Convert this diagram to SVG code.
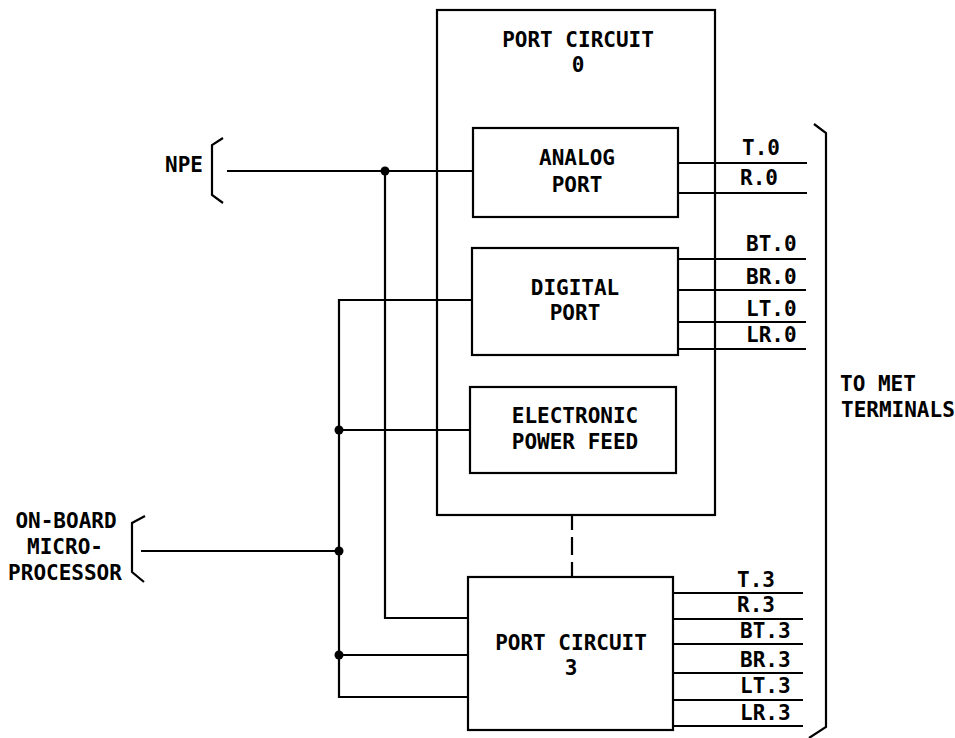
<svg xmlns="http://www.w3.org/2000/svg" width="955" height="738" viewBox="0 0 955 738">
<style>
.b{fill:none;stroke:#000;stroke-width:2.2}
.l{fill:none;stroke:#000;stroke-width:2.2}
text{font-family:"DejaVu Sans Mono","Liberation Mono",monospace;font-size:21px;font-weight:bold;fill:#000}
.c{text-anchor:middle}
.m{text-anchor:middle}
</style>
<rect width="955" height="738" fill="#fff"/>
<g id="connectors">
<path class="l" d="M227,171H473M385,171V618H468"/>
<path class="l" d="M472,300H339V697H468"/>
<path class="l" d="M339,430H470M141,551H339M339,655H468"/>
<path class="l" d="M572,515V577" stroke-dasharray="15 7 18 7 20"/>
<path class="l" d="M678,163H807M678,193H807"/>
<path class="l" d="M678,259H806M678,290H806M678,322H806M678,349H806"/>
<path class="l" d="M673,593H803M673,619H803M673,644H803M673,673H803M673,700H803M673,726H803"/>
<circle cx="385" cy="171" r="4.5"/>
<circle cx="339" cy="430" r="4.5"/>
<circle cx="339" cy="551" r="4.5"/>
<circle cx="339" cy="655" r="4.5"/>
</g>
<g id="port-circuit-0">
<rect class="b" x="437" y="10" width="278" height="505"/>
<text class="c" x="578" y="47">PORT CIRCUIT</text>
<text class="c" x="578" y="72">0</text>
</g>
<g id="analog-port">
<rect class="b" x="473" y="128" width="205" height="89"/>
<text class="c" x="577" y="165">ANALOG</text>
<text class="c" x="577" y="192">PORT</text>
</g>
<g id="digital-port">
<rect class="b" x="472" y="248" width="206" height="107"/>
<text class="c" x="575" y="295">DIGITAL</text>
<text class="c" x="575" y="320">PORT</text>
</g>
<g id="power-feed">
<rect class="b" x="470" y="387" width="206" height="86"/>
<text class="c" x="575" y="423">ELECTRONIC</text>
<text class="c" x="575" y="449">POWER FEED</text>
</g>
<g id="port-circuit-3">
<rect class="b" x="468" y="577" width="205" height="153"/>
<text class="c" x="571" y="650">PORT CIRCUIT</text>
<text class="c" x="571" y="675">3</text>
</g>
<g id="npe">
<path class="l" d="M223,138L212,145V195L223,203"/>
<text x="165" y="172">NPE</text>
</g>
<g id="microprocessor">
<path class="l" d="M145,516L132,523V572L144,582"/>
<text class="m" x="66" y="528">ON-BOARD</text>
<text class="m" x="65" y="554">MICRO-</text>
<text class="m" x="65" y="580">PROCESSOR</text>
</g>
<g id="met-terminals">
<path class="l" d="M814,124L826,133V727L809,738"/>
<text x="840" y="391">TO MET</text>
<text x="841" y="417">TERMINALS</text>
</g>
<g id="wire-labels">
<text x="742" y="155">T.0</text>
<text x="740" y="185">R.0</text>
<text x="746" y="251">BT.0</text>
<text x="746" y="284">BR.0</text>
<text x="746" y="316">LT.0</text>
<text x="746" y="342">LR.0</text>
<text x="737" y="587">T.3</text>
<text x="737" y="612">R.3</text>
<text x="740" y="638">BT.3</text>
<text x="740" y="667">BR.3</text>
<text x="740" y="693">LT.3</text>
<text x="740" y="720">LR.3</text>
</g>
</svg>
